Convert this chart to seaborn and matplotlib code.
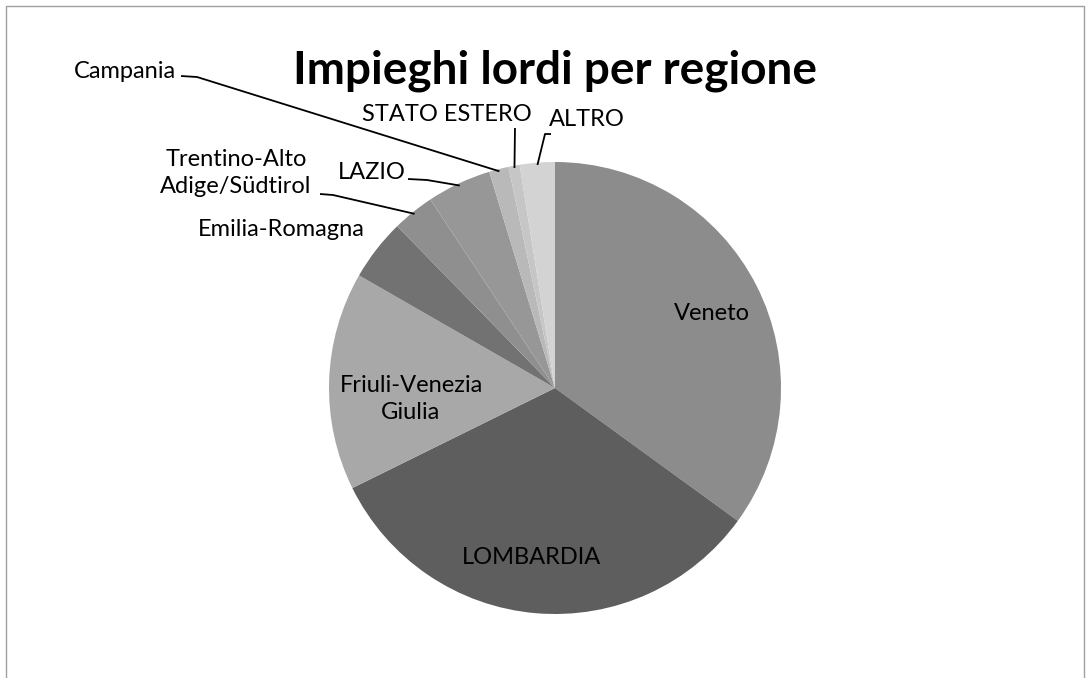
import matplotlib
matplotlib.use('Agg')
import matplotlib.pyplot as plt
import numpy as np
import seaborn as sns

sns.set_style(style='white')
plt.rcParams['font.family'] = ['Lato', 'DejaVu Sans']

# shares (%), clockwise from 12 o'clock
regions = ['Veneto', 'LOMBARDIA', 'Friuli-Venezia\nGiulia', 'Emilia-Romagna',
           'Trentino-Alto\nAdige/Südtirol', 'LAZIO', 'Campania', 'STATO ESTERO', 'ALTRO']
shares = [35.0, 32.7, 15.6, 4.4, 3.0, 4.6, 1.4, 0.8, 2.5]
greys = ['#8c8c8c', '#5e5e5e', '#a8a8a8', '#727272', '#8f8f8f',
         '#979797', '#b9b9b9', '#c6c6c6', '#d3d3d3']

W, H = 1088, 678
CX, CY, R = 555, 388, 226


def px(x, y):
    # pixel position -> data units of the pie axes
    return (x - CX) / R, (CY - y) / R


fig = plt.figure(figsize=(W / 100, H / 100), dpi=100)
ax = fig.add_axes([0, 0, 1, 1])
wedges, _ = ax.pie(shares, colors=greys, startangle=90, counterclock=False,
                   wedgeprops=dict(linewidth=0))
ax.set_xlim(-CX / R, (W - CX) / R)
ax.set_ylim(-(H - CY) / R, CY / R)
ax.axis('off')

# chart frame (open at the bottom, like the scanned page)
fig.patches.append(plt.Rectangle((6 / W, -0.1), (W - 10) / W, 1.1 - 6 / H,
                                 transform=fig.transFigure, fill=False,
                                 edgecolor='#a0a0a0', linewidth=1))

ax.text(*px(555, 84), 'Impieghi lordi per regione', ha='center', va='baseline',
        fontsize=33, fontweight='bold', color='black')

lbl = dict(fontsize=17, color='black', linespacing=1.35)

# labels inside the big slices
inside = {0: (712, 313), 1: (531, 558), 2: (411, 399)}
for i, (x, y) in inside.items():
    ax.text(*px(x, y), regions[i], ha='center', va='center', **lbl)

# outside labels: text anchor, alignment, leader start, leader elbow
outside = {
    3: ((281, 229), 'center', 'center', None, None),
    4: ((236, 173), 'center', 'center', (320, 194), (333, 195)),
    5: ((372, 179), 'center', 'baseline', (408, 179), (427, 180)),
    6: ((176, 78), 'right', 'baseline', (181, 76), (197, 77)),
    7: ((447, 121), 'center', 'baseline', (515, 128), (515, 128)),
    8: ((549, 126), 'left', 'baseline', (551, 134), (545, 134)),
}
for i, ((tx, ty), ha, va, start, elbow) in outside.items():
    ax.text(*px(tx, ty), regions[i], ha=ha, va=va, **lbl)
    if start is None:
        continue
    w = wedges[i]
    mid = np.deg2rad((w.theta1 + w.theta2) / 2)
    end = (0.99 * np.cos(mid), 0.99 * np.sin(mid))
    p0, p1 = px(*start), px(*elbow)
    ax.plot([p0[0], p1[0], end[0]], [p0[1], p1[1], end[1]], color='black', lw=1.3,
            solid_capstyle='butt')

fig.savefig('out.png', dpi=100, facecolor='white')
plt.close(fig)
